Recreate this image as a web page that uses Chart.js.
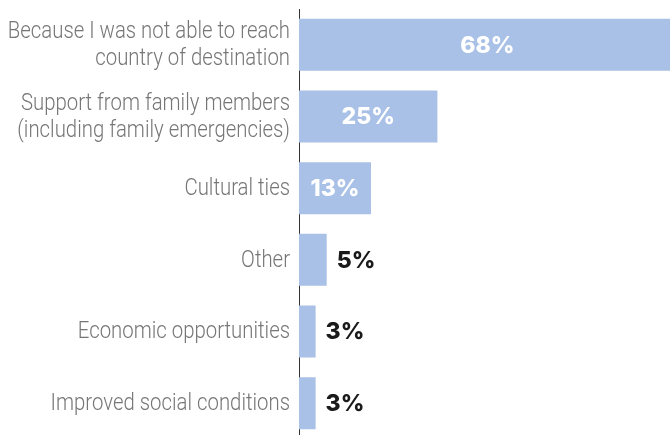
<!DOCTYPE html>
<html>
<head>
<meta charset="utf-8">
<script src="https://cdn.jsdelivr.net/npm/chart.js@4/dist/chart.umd.min.js"></script>
<style>
  html, body { margin: 0; padding: 0; background: #ffffff; overflow: hidden; }
  #wrap { position: relative; width: 670px; height: 440px; }
</style>
</head>
<body>
<div id="wrap"><canvas id="chart"></canvas></div>
<script>
// Reasons given for returning
const categories = [
  ['Because I was not able to reach', 'country of destination'],
  ['Support from family members', '(including family emergencies)'],
  'Cultural ties',
  'Other',
  'Economic opportunities',
  'Improved social conditions'
];
const shares = [68, 25, 13, 5, 3, 3];
const valueLabels = ['68%', '25%', '13%', '5%', '3%', '3%'];

const BAR_COLOR = '#a9c1e6';

// Category names in a narrow light face, right-aligned against the axis line
const categoryLabels = {
  id: 'categoryLabels',
  afterDraw(chart) {
    const ctx = chart.ctx;
    const yScale = chart.scales.y;
    const right = yScale.right - 9;
    const lineH = 27;
    ctx.save();
    ctx.font = '300 23px Roboto, sans-serif';
    ctx.fillStyle = '#767676';
    ctx.textAlign = 'right';
    ctx.textBaseline = 'middle';
    yScale.ticks.forEach((tick, i) => {
      const label = chart.data.labels[i];
      const lines = Array.isArray(label) ? label : [label];
      const y = yScale.getPixelForTick(i);
      lines.forEach((line, k) => {
        const dy = (k - (lines.length - 1) / 2) * lineH;
        ctx.save();
        ctx.translate(right, y + dy + 1);
        ctx.scale(0.885, 1);
        ctx.fillText(line, 0, 0);
        ctx.restore();
      });
    });
    ctx.restore();
  }
};

// Writes each bar's percentage: inside the bar in white when it is wide enough, otherwise just past its end
const barValueLabels = {
  id: 'barValueLabels',
  afterDatasetsDraw(chart) {
    const ctx = chart.ctx;
    const meta = chart.getDatasetMeta(0);
    ctx.save();
    ctx.font = '800 23px Inter, "Open Sans", sans-serif';
    ctx.textBaseline = 'middle';
    meta.data.forEach((bar, i) => {
      const v = shares[i];
      const text = valueLabels[i];
      if (v >= 10) {
        ctx.fillStyle = '#ffffff';
        ctx.textAlign = 'center';
        ctx.fillText(text, (bar.base + bar.x) / 2, bar.y + 1);
      } else {
        ctx.fillStyle = '#1a1a1a';
        ctx.textAlign = 'left';
        ctx.fillText(text, bar.x + 10, bar.y + 1);
      }
    });
    ctx.restore();
  }
};

new Chart(document.getElementById('chart'), {
  type: 'bar',
  data: {
    labels: categories,
    datasets: [{
      data: shares,
      backgroundColor: BAR_COLOR,
      borderWidth: 0,
      categoryPercentage: 1,
      barPercentage: 0.726
    }]
  },
  options: {
    indexAxis: 'y',
    responsive: true,
    maintainAspectRatio: false,
    animation: false,
    layout: { padding: { top: 9, right: 0, bottom: 1, left: 0 } },
    plugins: {
      legend: { display: false },
      tooltip: { enabled: false }
    },
    scales: {
      x: {
        display: false,
        min: 0,
        max: 67
      },
      y: {
        afterFit(scale) {
          scale.width = 299;
          scale.paddingTop = 0;
          scale.paddingBottom = 0;
        },
        grid: { display: false, drawTicks: false },
        border: { display: true, color: '#333333', width: 1 },
        ticks: { display: false }
      }
    }
  },
  plugins: [barValueLabels, categoryLabels]
});
</script>
</body>
</html>
